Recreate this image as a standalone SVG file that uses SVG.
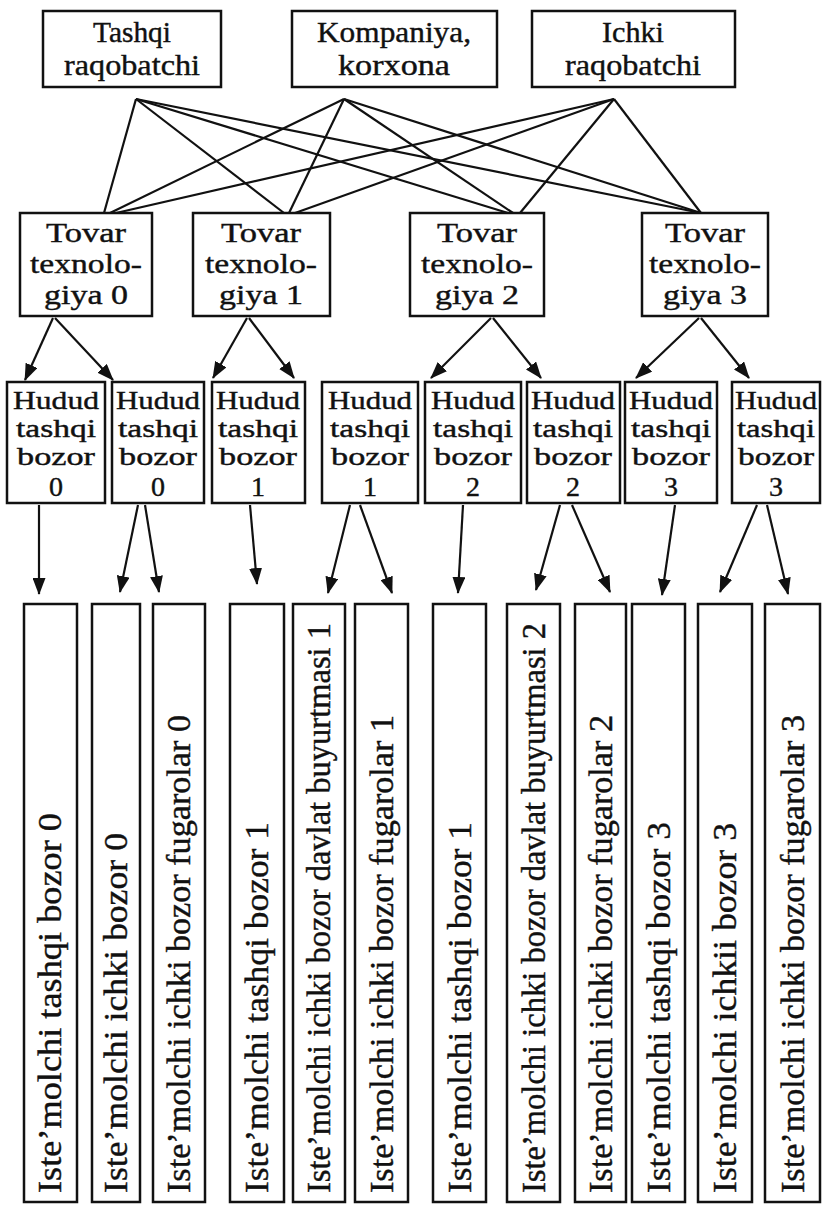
<svg xmlns="http://www.w3.org/2000/svg" width="824" height="1208" viewBox="0 0 824 1208">
  <style>
    .box { fill: #ffffff; stroke: #111; stroke-width: 2.5; }
    .lbl { font-family: "Liberation Serif", "Times New Roman", serif; fill: #111; stroke: #111; stroke-width: 0.4; text-anchor: middle; }
    .top { font-size: 29px; }
    .tov { font-size: 27.5px; }
    .hud { font-size: 25px; }
    .num { font-size: 28px; }
    .vt { font-family: "Liberation Serif", "Times New Roman", serif; fill: #111; stroke: #111; stroke-width: 0.4; font-size: 33px; }
    .ln { stroke: #111; stroke-width: 2.2; fill: none; }
    .ar { stroke: #111; stroke-width: 2.2; fill: none; marker-end: url(#head); }
  </style>
  <defs>
    <marker id="head" markerUnits="userSpaceOnUse" markerWidth="17" markerHeight="13" refX="16" refY="6.5" orient="auto">
      <path d="M0,0 L17,6.5 L0,13 z" fill="#111"/>
    </marker>
  </defs>
  <rect width="824" height="1208" fill="#ffffff"/>

  <!-- connectors -->
  <g id="connectors">
    <!-- top level to product/technology level -->
    <line class="ln" x1="136" y1="99" x2="104" y2="213"/>
    <line class="ln" x1="136" y1="99" x2="284" y2="213"/>
    <line class="ln" x1="136" y1="99" x2="508" y2="213"/>
    <line class="ln" x1="136" y1="99" x2="701" y2="213"/>
    <line class="ln" x1="344" y1="99" x2="110" y2="213"/>
    <line class="ln" x1="344" y1="99" x2="289" y2="213"/>
    <line class="ln" x1="344" y1="99" x2="513" y2="213"/>
    <line class="ln" x1="344" y1="99" x2="701" y2="213"/>
    <line class="ln" x1="614" y1="99" x2="116" y2="213"/>
    <line class="ln" x1="614" y1="99" x2="295" y2="213"/>
    <line class="ln" x1="614" y1="99" x2="520" y2="213"/>
    <line class="ln" x1="614" y1="99" x2="701" y2="213"/>
    <!-- technology to regional markets -->
    <line class="ar" x1="53" y1="318" x2="25" y2="380"/>
    <line class="ar" x1="55" y1="318" x2="113" y2="380"/>
    <line class="ar" x1="247" y1="318" x2="213" y2="378"/>
    <line class="ar" x1="249" y1="318" x2="294" y2="378"/>
    <line class="ar" x1="491" y1="318" x2="431" y2="378"/>
    <line class="ar" x1="493" y1="318" x2="541" y2="378"/>
    <line class="ar" x1="699" y1="318" x2="636" y2="378"/>
    <line class="ar" x1="701" y1="318" x2="749" y2="378"/>
    <!-- regional markets to consumers -->
    <line class="ar" x1="39" y1="505" x2="39" y2="594"/>
    <line class="ar" x1="138" y1="505" x2="120" y2="592"/>
    <line class="ar" x1="145" y1="505" x2="159" y2="592"/>
    <line class="ar" x1="250" y1="505" x2="257" y2="584"/>
    <line class="ar" x1="350" y1="505" x2="328" y2="593"/>
    <line class="ar" x1="360" y1="505" x2="392" y2="593"/>
    <line class="ar" x1="463" y1="505" x2="458" y2="593"/>
    <line class="ar" x1="560" y1="505" x2="536" y2="590"/>
    <line class="ar" x1="572" y1="505" x2="610" y2="592"/>
    <line class="ar" x1="675" y1="505" x2="662" y2="595"/>
    <line class="ar" x1="757" y1="505" x2="720" y2="592"/>
    <line class="ar" x1="767" y1="505" x2="788" y2="594"/>
  </g>

  <!-- top level -->
  <g id="tashqi-raqobatchi">
    <rect class="box" x="43" y="11" width="178" height="76"/>
    <text class="lbl top" x="132" y="42" textLength="78" lengthAdjust="spacingAndGlyphs">Tashqi</text>
    <text class="lbl top" x="132" y="75" textLength="136" lengthAdjust="spacingAndGlyphs">raqobatchi</text>
  </g>
  <g id="kompaniya">
    <rect class="box" x="292" y="11" width="205" height="76"/>
    <text class="lbl top" x="394" y="42" textLength="154" lengthAdjust="spacingAndGlyphs">Kompaniya,</text>
    <text class="lbl top" x="394" y="75" textLength="112" lengthAdjust="spacingAndGlyphs">korxona</text>
  </g>
  <g id="ichki-raqobatchi">
    <rect class="box" x="532" y="11" width="203" height="76"/>
    <text class="lbl top" x="633" y="42" textLength="62" lengthAdjust="spacingAndGlyphs">Ichki</text>
    <text class="lbl top" x="633" y="75" textLength="136" lengthAdjust="spacingAndGlyphs">raqobatchi</text>
  </g>

  <!-- product / technology -->
  <g id="tovar-0">
    <rect class="box" x="20" y="213" width="132" height="103"/>
    <text class="lbl tov" x="86" y="242" textLength="80" lengthAdjust="spacingAndGlyphs">Tovar</text>
    <text class="lbl tov" x="86" y="273" textLength="112" lengthAdjust="spacingAndGlyphs">texnolo-</text>
    <text class="lbl tov" x="86" y="304" textLength="84" lengthAdjust="spacingAndGlyphs">giya 0</text>
  </g>
  <g id="tovar-1">
    <rect class="box" x="193" y="213" width="137" height="103"/>
    <text class="lbl tov" x="261" y="242" textLength="80" lengthAdjust="spacingAndGlyphs">Tovar</text>
    <text class="lbl tov" x="261" y="273" textLength="112" lengthAdjust="spacingAndGlyphs">texnolo-</text>
    <text class="lbl tov" x="261" y="304" textLength="84" lengthAdjust="spacingAndGlyphs">giya 1</text>
  </g>
  <g id="tovar-2">
    <rect class="box" x="410" y="213" width="134" height="103"/>
    <text class="lbl tov" x="477" y="242" textLength="80" lengthAdjust="spacingAndGlyphs">Tovar</text>
    <text class="lbl tov" x="477" y="273" textLength="112" lengthAdjust="spacingAndGlyphs">texnolo-</text>
    <text class="lbl tov" x="477" y="304" textLength="84" lengthAdjust="spacingAndGlyphs">giya 2</text>
  </g>
  <g id="tovar-3">
    <rect class="box" x="642" y="213" width="126" height="103"/>
    <text class="lbl tov" x="705" y="242" textLength="80" lengthAdjust="spacingAndGlyphs">Tovar</text>
    <text class="lbl tov" x="705" y="273" textLength="112" lengthAdjust="spacingAndGlyphs">texnolo-</text>
    <text class="lbl tov" x="705" y="304" textLength="84" lengthAdjust="spacingAndGlyphs">giya 3</text>
  </g>

  <!-- regional external markets -->
  <g id="hudud-0a">
    <rect class="box" x="7" y="382" width="98" height="121"/>
    <text class="lbl hud" x="56" y="409" textLength="86" lengthAdjust="spacingAndGlyphs">Hudud</text>
    <text class="lbl hud" x="56" y="437" textLength="80" lengthAdjust="spacingAndGlyphs">tashqi</text>
    <text class="lbl hud" x="56" y="465" textLength="78" lengthAdjust="spacingAndGlyphs">bozor</text>
    <text class="lbl num" x="56" y="496">0</text>
  </g>
  <g id="hudud-0b">
    <rect class="box" x="112" y="382" width="92" height="121"/>
    <text class="lbl hud" x="158" y="409" textLength="84" lengthAdjust="spacingAndGlyphs">Hudud</text>
    <text class="lbl hud" x="158" y="437" textLength="80" lengthAdjust="spacingAndGlyphs">tashqi</text>
    <text class="lbl hud" x="158" y="465" textLength="78" lengthAdjust="spacingAndGlyphs">bozor</text>
    <text class="lbl num" x="158" y="496">0</text>
  </g>
  <g id="hudud-1a">
    <rect class="box" x="212" y="382" width="93" height="121"/>
    <text class="lbl hud" x="258" y="409" textLength="84" lengthAdjust="spacingAndGlyphs">Hudud</text>
    <text class="lbl hud" x="258" y="437" textLength="80" lengthAdjust="spacingAndGlyphs">tashqi</text>
    <text class="lbl hud" x="258" y="465" textLength="78" lengthAdjust="spacingAndGlyphs">bozor</text>
    <text class="lbl num" x="258" y="496">1</text>
  </g>
  <g id="hudud-1b">
    <rect class="box" x="322" y="382" width="96" height="121"/>
    <text class="lbl hud" x="370" y="409" textLength="84" lengthAdjust="spacingAndGlyphs">Hudud</text>
    <text class="lbl hud" x="370" y="437" textLength="80" lengthAdjust="spacingAndGlyphs">tashqi</text>
    <text class="lbl hud" x="370" y="465" textLength="78" lengthAdjust="spacingAndGlyphs">bozor</text>
    <text class="lbl num" x="370" y="496">1</text>
  </g>
  <g id="hudud-2a">
    <rect class="box" x="425" y="382" width="96" height="121"/>
    <text class="lbl hud" x="473" y="409" textLength="84" lengthAdjust="spacingAndGlyphs">Hudud</text>
    <text class="lbl hud" x="473" y="437" textLength="80" lengthAdjust="spacingAndGlyphs">tashqi</text>
    <text class="lbl hud" x="473" y="465" textLength="78" lengthAdjust="spacingAndGlyphs">bozor</text>
    <text class="lbl num" x="473" y="496">2</text>
  </g>
  <g id="hudud-2b">
    <rect class="box" x="527" y="382" width="93" height="121"/>
    <text class="lbl hud" x="573" y="409" textLength="84" lengthAdjust="spacingAndGlyphs">Hudud</text>
    <text class="lbl hud" x="573" y="437" textLength="80" lengthAdjust="spacingAndGlyphs">tashqi</text>
    <text class="lbl hud" x="573" y="465" textLength="78" lengthAdjust="spacingAndGlyphs">bozor</text>
    <text class="lbl num" x="573" y="496">2</text>
  </g>
  <g id="hudud-3a">
    <rect class="box" x="625" y="382" width="92" height="121"/>
    <text class="lbl hud" x="671" y="409" textLength="84" lengthAdjust="spacingAndGlyphs">Hudud</text>
    <text class="lbl hud" x="671" y="437" textLength="80" lengthAdjust="spacingAndGlyphs">tashqi</text>
    <text class="lbl hud" x="671" y="465" textLength="78" lengthAdjust="spacingAndGlyphs">bozor</text>
    <text class="lbl num" x="671" y="496">3</text>
  </g>
  <g id="hudud-3b">
    <rect class="box" x="732" y="382" width="88" height="121"/>
    <text class="lbl hud" x="776" y="409" textLength="82" lengthAdjust="spacingAndGlyphs">Hudud</text>
    <text class="lbl hud" x="776" y="437" textLength="78" lengthAdjust="spacingAndGlyphs">tashqi</text>
    <text class="lbl hud" x="776" y="465" textLength="76" lengthAdjust="spacingAndGlyphs">bozor</text>
    <text class="lbl num" x="776" y="496">3</text>
  </g>

  <!-- consumer segments (vertical labels) -->
  <g id="istemolchi-1">
    <rect class="box" x="24" y="604" width="53" height="598"/>
    <text class="vt" transform="translate(61,1193) rotate(-90)" textLength="380" lengthAdjust="spacingAndGlyphs">Iste’molchi tashqi bozor 0</text>
  </g>
  <g id="istemolchi-2">
    <rect class="box" x="92" y="604" width="48" height="598"/>
    <text class="vt" transform="translate(127,1193) rotate(-90)" textLength="360" lengthAdjust="spacingAndGlyphs">Iste’molchi ichki bozor 0</text>
  </g>
  <g id="istemolchi-3">
    <rect class="box" x="153" y="604" width="52" height="598"/>
    <text class="vt" transform="translate(190,1193) rotate(-90)" textLength="478" lengthAdjust="spacingAndGlyphs">Iste’molchi ichki bozor fugarolar 0</text>
  </g>
  <g id="istemolchi-4">
    <rect class="box" x="230" y="604" width="54" height="598"/>
    <text class="vt" transform="translate(268,1193) rotate(-90)" textLength="371" lengthAdjust="spacingAndGlyphs">Iste’molchi tashqi bozor 1</text>
  </g>
  <g id="istemolchi-5">
    <rect class="box" x="293" y="604" width="52" height="598"/>
    <text class="vt" transform="translate(330,1193) rotate(-90)" textLength="570" lengthAdjust="spacingAndGlyphs">Iste’molchi ichki bozor davlat buyurtmasi 1</text>
  </g>
  <g id="istemolchi-6">
    <rect class="box" x="355" y="604" width="53" height="598"/>
    <text class="vt" transform="translate(393,1193) rotate(-90)" textLength="478" lengthAdjust="spacingAndGlyphs">Iste’molchi ichki bozor fugarolar 1</text>
  </g>
  <g id="istemolchi-7">
    <rect class="box" x="433" y="604" width="53" height="598"/>
    <text class="vt" transform="translate(471,1193) rotate(-90)" textLength="371" lengthAdjust="spacingAndGlyphs">Iste’molchi tashqi bozor 1</text>
  </g>
  <g id="istemolchi-8">
    <rect class="box" x="507" y="604" width="53" height="598"/>
    <text class="vt" transform="translate(545,1193) rotate(-90)" textLength="570" lengthAdjust="spacingAndGlyphs">Iste’molchi ichki bozor davlat buyurtmasi 2</text>
  </g>
  <g id="istemolchi-9">
    <rect class="box" x="575" y="604" width="51" height="598"/>
    <text class="vt" transform="translate(612,1193) rotate(-90)" textLength="478" lengthAdjust="spacingAndGlyphs">Iste’molchi ichki bozor fugarolar 2</text>
  </g>
  <g id="istemolchi-10">
    <rect class="box" x="632" y="604" width="53" height="598"/>
    <text class="vt" transform="translate(670,1193) rotate(-90)" textLength="371" lengthAdjust="spacingAndGlyphs">Iste’molchi tashqi bozor 3</text>
  </g>
  <g id="istemolchi-11">
    <rect class="box" x="698" y="604" width="54" height="598"/>
    <text class="vt" transform="translate(736,1193) rotate(-90)" textLength="370" lengthAdjust="spacingAndGlyphs">Iste’molchi ichkii bozor 3</text>
  </g>
  <g id="istemolchi-12">
    <rect class="box" x="765" y="604" width="55" height="598"/>
    <text class="vt" transform="translate(804,1193) rotate(-90)" textLength="478" lengthAdjust="spacingAndGlyphs">Iste’molchi ichki bozor fugarolar 3</text>
  </g>
</svg>
